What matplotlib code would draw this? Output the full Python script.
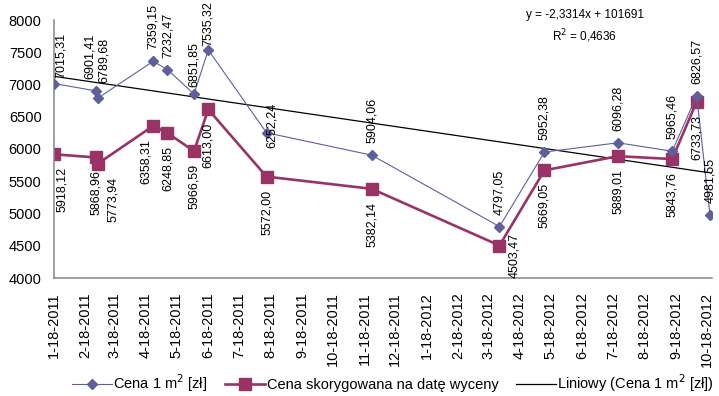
import numpy as np
import matplotlib
matplotlib.use("Agg")
import matplotlib.pyplot as plt
import matplotlib.dates as mdates

plt.rcParams['font.family'] = ['Liberation Sans', 'DejaVu Sans']

# transaction dates and prices
dates = ['2011-01-18', '2011-02-28', '2011-03-02', '2011-04-25', '2011-05-09',
         '2011-06-04', '2011-06-18', '2011-08-14', '2011-11-25', '2012-03-29',
         '2012-05-12', '2012-07-23', '2012-09-14', '2012-10-08', '2012-10-21']
price = [7015.31, 6901.41, 6789.68, 7359.15, 7232.47, 6851.85, 7535.32, 6252.24,
         5904.06, 4797.05, 5952.38, 6096.28, 5965.46, 6826.57, 4981.55]
adjusted = [5918.12, 5868.96, 5773.94, 6358.31, 6248.85, 5966.59, 6613.00, 5572.00,
            5382.14, 4503.47, 5669.05, 5889.01, 5843.76, 6733.73]

# trendline as printed on the chart (x = Excel date serial)
trend_slope = -2.3314
trend_intercept = 101691
trend_text = "y = -2,3314x + 101691"
r2_text = "R$^2$ = 0,4636"

tick_dates = []
tick_labels = []
for yr in (2011, 2012):
    for m in range(1, 13):
        if yr == 2012 and m > 10:
            break
        tick_dates.append('%d-%02d-18' % (yr, m))
        tick_labels.append('%d-18-%d' % (m, yr))

x = mdates.datestr2num(dates)
xt = mdates.datestr2num(tick_dates)
xlim = (mdates.datestr2num('2011-01-18'), mdates.datestr2num('2012-10-23'))

blue = '#5F5F9E'
red = '#993366'

fig = plt.figure(figsize=(7.19, 3.96), dpi=100)
ax = fig.add_axes([54/719, 1-278/396, (712-54)/719, (278-20)/396])

l1, = ax.plot(x, price, color=blue, lw=0.8, marker='D', ms=5.6, mec=blue, mfc=blue,
              label='Cena 1 m$^2$ [zł]', zorder=3)
l2, = ax.plot(x[:len(adjusted)], adjusted, color=red, lw=1.9, marker='s', ms=8.5,
              mec=red, mfc=red, label='Cena skorygowana na datę wyceny', zorder=2)
xl = np.array(xlim)
l3, = ax.plot(xl, trend_slope*(xl + 25569) + trend_intercept, color='black', lw=0.9,
              label='Liniowy (Cena 1 m$^2$ [zł])', zorder=1)

def fmt(v):
    return ('%.2f' % v).replace('.', ',')

# label tweaks in pixels: index -> (dx, gap)
blue_adj = {0: (7, 6), 1: (-6, 12), 2: (6, 15), 5: (0, 7), 6: (0, 4), 7: (5, -15)}
red_adj = {0: (8, 13), 2: (15, 13), 3: (-7, 13), 9: (15, -13)}

for i, v in enumerate(price):
    dx, gap = blue_adj.get(i, (0, 12))
    ax.annotate(fmt(v), (x[i], v), xytext=(dx*0.72, gap*0.72), textcoords='offset points',
                rotation=90, ha='center', va='bottom', fontsize=9, annotation_clip=False)
for i, v in enumerate(adjusted):
    dx, gap = red_adj.get(i, (0, 13))
    ax.annotate(fmt(v), (x[i], v), xytext=(dx*0.72, -gap*0.72), textcoords='offset points',
                rotation=90, ha='center', va='top', fontsize=9, annotation_clip=False)

ax.set_xlim(xlim)
ax.set_ylim(4000, 8000)
ax.set_yticks(np.arange(4000, 8001, 500))
ax.set_xticks(xt)
ax.set_xticklabels(tick_labels, rotation=90)
ax.tick_params(axis='both', length=0, labelsize=10.5)
ax.tick_params(axis='y', pad=9)
ax.tick_params(axis='x', pad=10)
for s in ('top', 'right'):
    ax.spines[s].set_visible(False)
for s in ('left', 'bottom'):
    ax.spines[s].set_color('#868686')
    ax.spines[s].set_linewidth(1.1)

fig.text(585/719, 1-15/396, trend_text, ha='center', va='center', fontsize=8.5)
fig.text(585/719, 1-36/396, r2_text, ha='center', va='center', fontsize=8.5)

fig.legend(handles=[l1, l2, l3], loc='center', bbox_to_anchor=(393/719, 1-383/396),
           ncol=3, frameon=False, fontsize=10.5, handlelength=2.75, handletextpad=0.1,
           columnspacing=1.2, numpoints=1, borderpad=0, borderaxespad=0)

fig.savefig('out.png', dpi=100)
